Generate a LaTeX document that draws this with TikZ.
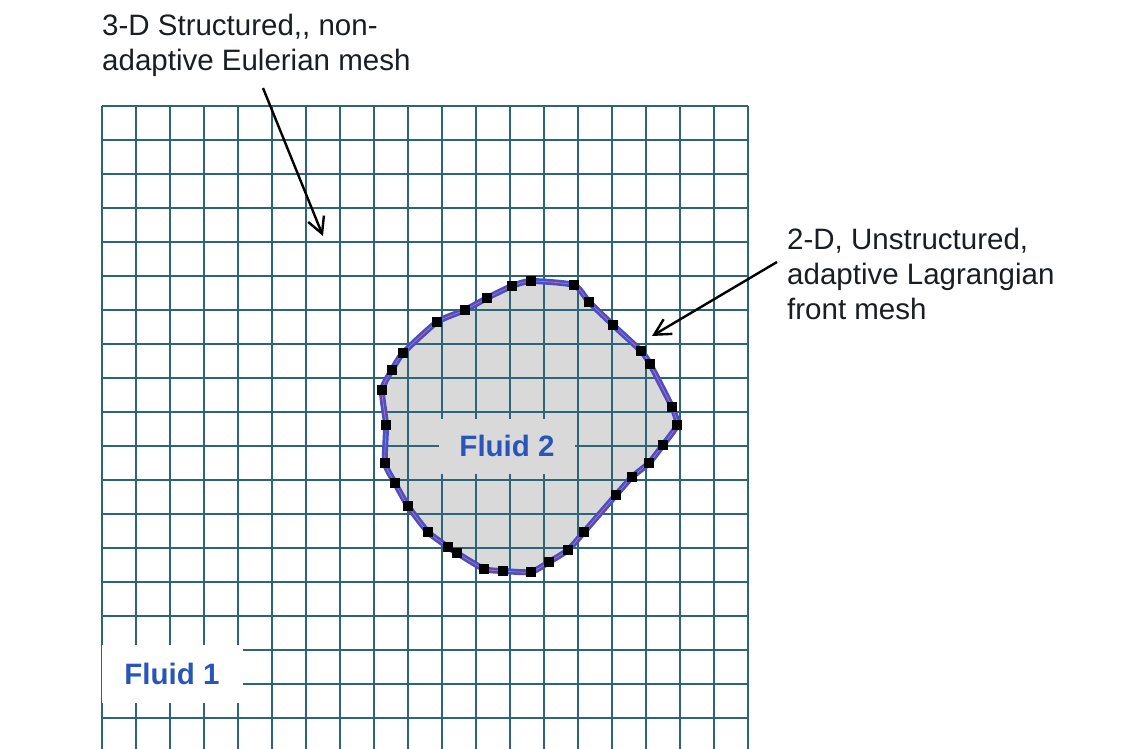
\documentclass[tikz,border=0pt]{standalone}
\usepackage{fontspec}
\setmainfont{Liberation Sans}
\usetikzlibrary{arrows.meta}
\definecolor{gridc}{RGB}{45,100,120}
\definecolor{blobfill}{RGB}{217,217,217}
\definecolor{frontblue}{RGB}{70,80,200}
\definecolor{frontred}{RGB}{225,100,140}
\definecolor{fluidblue}{RGB}{40,85,185}
\definecolor{textc}{RGB}{25,30,35}
\tikzset{
  gridline/.style={draw=gridc, line width=1.8pt},
  label/.style={inner sep=0pt, anchor=north west, align=left, text=textc, font=\fontsize{29.5}{35}\selectfont},
  fluid/.style={inner sep=0pt, text=fluidblue, font=\fontsize{29.5}{35}\selectfont\bfseries},
  pointer/.style={draw=black, line width=2.4pt, -{Straight Barb[length=16pt,width=17pt,line width=2.4pt]}},
  marker/.style={fill=black}
}
\begin{document}
\begin{tikzpicture}[x=1pt,y=-1pt]
\useasboundingbox (0,0) rectangle (1143,749);
\fill[white] (0,0) rectangle (1143,749);
% front (bubble) shape
\def\blobpts{(531,281) (574,285) (589,302) (613,325) (641,351) (650,364) (672,407) (677,425) (663,445) (649,463) (632,477) (616,495) (584,532) (568,550) (549,562) (531,572) (503,571) (484,569) (457,553) (448,547) (428,532) (408,506) (395,483) (385,463) (386,425) (382,390) (392,370) (403,353) (437,322) (465,310) (487,298) (512,286)}
\fill[blobfill] plot[smooth cycle, tension=0.35] coordinates {\blobpts};
% Eulerian grid
\foreach \i in {0,...,19} {
  \draw[gridline] ({102+34*\i},106) -- ({102+34*\i},749);
}
\foreach \j in {0,...,18} {
  \draw[gridline] (102,{106+34*\j}) -- (748,{106+34*\j});
}
% Lagrangian front
\draw[frontblue, line width=6pt] plot[smooth cycle, tension=0.35] coordinates {\blobpts};
\draw[frontred, line width=0.7pt] plot[smooth cycle, tension=0.35] coordinates {\blobpts};
\foreach \p in {(531,281),(574,285),(589,302),(613,325),(641,351),(650,364),(672,407),(677,425),(663,445),(649,463),(632,477),(616,495),(584,532),(568,550),(549,562),(531,572),(503,571),(484,569),(457,553),(448,547),(428,532),(408,506),(395,483),(385,463),(386,425),(382,390),(392,370),(403,353),(437,322),(465,310),(487,298),(512,286)} {
  \fill[marker] \p ++(-5,-5) rectangle ++(10,10);
}
% fluid labels
\node[fluid, fill=white, minimum width=141pt, minimum height=58pt] (f1) at (172,674) {Fluid 1};
\node[fluid, fill=blobfill, minimum width=136pt, minimum height=55pt] (f2) at (507,446) {Fluid 2};
% annotations
\node[label] (euler) at (102,14) {3-D Structured,\kern0pt, non-\\adaptive Eulerian mesh};
\node[label] (lagr) at (787,228) {2-D, Unstructured,\\adaptive Lagrangian\\front mesh};
\coordinate (a1s) at (263,88);
\coordinate (a1e) at (323,236);
\coordinate (a2s) at (777,262);
\coordinate (a2e) at (652,336);
\draw[pointer] (a1s) -- (a1e);
\draw[pointer] (a2s) -- (a2e);
\end{tikzpicture}
\end{document}
